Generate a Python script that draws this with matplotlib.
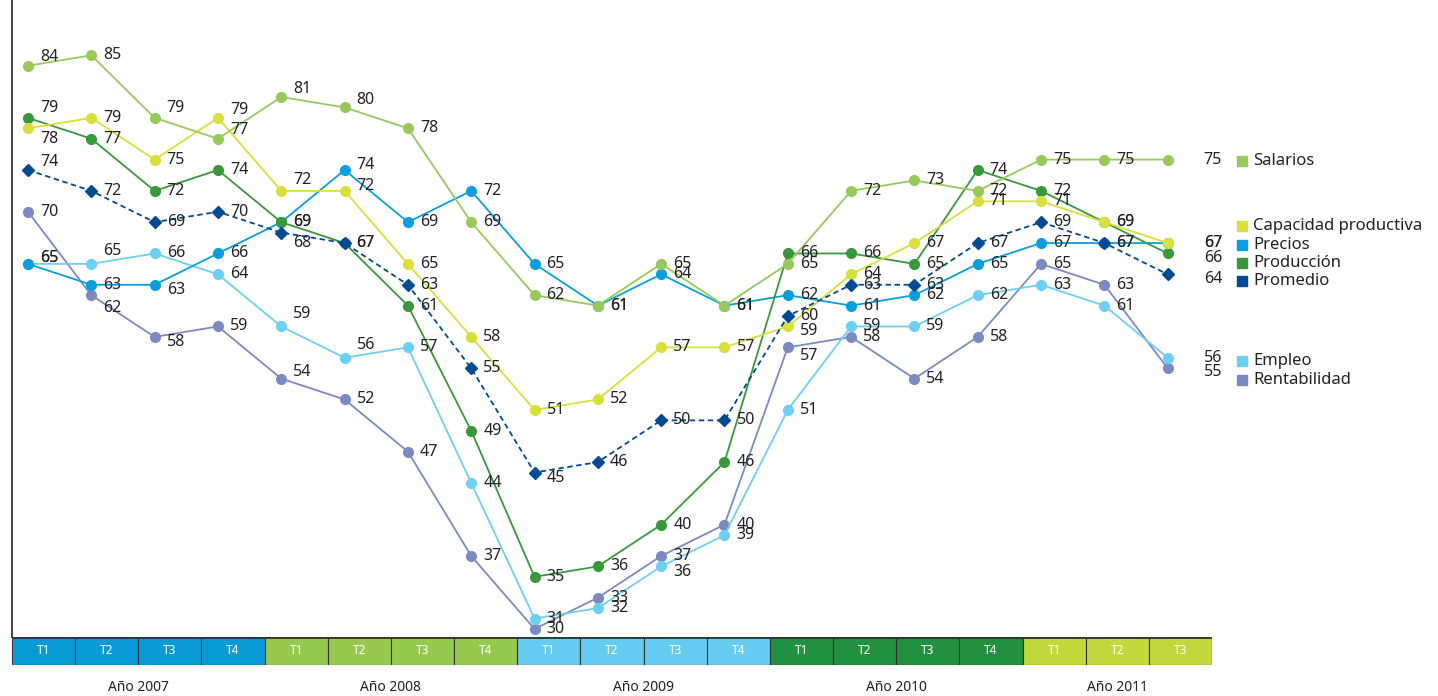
import matplotlib
matplotlib.use("Agg")
import matplotlib.pyplot as plt
from matplotlib.patches import Rectangle

plt.rcParams['font.family'] = ['Noto Sans', 'DejaVu Sans']

quarters = ["T1", "T2", "T3", "T4"] * 4 + ["T1", "T2", "T3"]
years = ["Año 2007", "Año 2008", "Año 2009", "Año 2010", "Año 2011"]
year_len = [4, 4, 4, 4, 3]

salarios     = [84, 85, 79, 77, 81, 80, 78, 69, 62, 61, 65, 61, 65, 72, 73, 72, 75, 75, 75]
capacidad    = [78, 79, 75, 79, 72, 72, 65, 58, 51, 52, 57, 57, 59, 64, 67, 71, 71, 69, 67]
precios      = [65, 63, 63, 66, 69, 74, 69, 72, 65, 61, 64, 61, 62, 61, 62, 65, 67, 67, 67]
produccion   = [79, 77, 72, 74, 69, 67, 61, 49, 35, 36, 40, 46, 66, 66, 65, 74, 72, 69, 66]
promedio     = [74, 72, 69, 70, 68, 67, 63, 55, 45, 46, 50, 50, 60, 63, 63, 67, 69, 67, 64]
empleo       = [65, 65, 66, 64, 59, 56, 57, 44, 31, 32, 36, 39, 51, 59, 59, 62, 63, 61, 56]
rentabilidad = [70, 62, 58, 59, 54, 52, 47, 37, 30, 33, 37, 40, 57, 58, 54, 58, 65, 63, 55]

c_sal = '#97c95c'
c_cap = '#d9df3b'
c_pre = '#0a9fdc'
c_pro = '#3a983c'
c_avg = '#004a93'
c_emp = '#6dd0f2'
c_ren = '#7b8bc0'
year_colors = ['#0a9ad6', '#98c94f', '#66cbf0', '#21903f', '#c2d73a']

# label nudges (pixels, + = down)
nudge = {
    'sal': {0: -9, 2: -10, 3: -9, 4: -8, 5: -7},
    'cap': {0: 11, 3: -8, 4: -11, 5: -5, 12: 5},
    'pre': {0: -6, 2: 5, 5: -5},
    'pro': {0: -10, 18: 5},
    'avg': {0: -8, 4: 10, 8: 5, 18: 5},
    'emp': {0: -6, 1: -13, 4: -12, 5: -13, 10: 6},
    'ren': {1: 13, 2: 5, 4: -7, 12: 9, 18: 4},
}

W, H = 1438, 696
fig = plt.figure(figsize=(W / 100, H / 100), dpi=100)
ax = fig.add_axes([12 / W, (H - 637) / H, 1200 / W, 637 / H])
ax.set_xlim(-0.253, 18.70)
ax.set_ylim(29.23, 90.3)
for s in ['top', 'right', 'bottom']:
    ax.spines[s].set_visible(False)
ax.spines['left'].set_color('#222222')
ax.spines['left'].set_linewidth(1.2)
ax.set_xticks([])
ax.set_yticks([])

x = list(range(len(quarters)))
series = [
    ('ren', rentabilidad, c_ren, 'o', '-'),
    ('emp', empleo, c_emp, 'o', '-'),
    ('pre', precios, c_pre, 'o', '-'),
    ('pro', produccion, c_pro, 'o', '-'),
    ('cap', capacidad, c_cap, 'o', '-'),
    ('sal', salarios, c_sal, 'o', '-'),
    ('avg', promedio, c_avg, 'D', '--'),
]
px = 72 / 100  # points per pixel
for key, vals, col, mk, ls in series:
    ax.plot(x, vals, color=col, lw=1.3, ls=ls, marker=mk,
            ms=7 if mk == 'o' else 6, mec=col, mfc=col, zorder=3, clip_on=False,
            dashes=(3, 2) if ls == '--' else (None, None))
    for i, v in enumerate(vals):
        dx = 36 if i == len(vals) - 1 else 12
        dy = nudge[key].get(i, 0)
        ax.annotate(str(v), (i, v), xytext=(dx * px, -dy * px), textcoords='offset points',
                    ha='left', va='center', fontsize=11.5, color='#222222', zorder=5)

# quarter band
bax = fig.add_axes([12 / W, (H - 665) / H, 1200 / W, 28 / H])
bax.set_xlim(0, len(quarters))
bax.set_ylim(0, 1)
bax.axis('off')
i = 0
for yname, n, col in zip(years, year_len, year_colors):
    for k in range(n):
        bax.bar(i + k, 1, width=1, align='edge', color=col, edgecolor='#333333', lw=0.8)
        bax.text(i + k + 0.5, 0.5, quarters[i + k], ha='center', va='center',
                 color='white', fontsize=8.5)
    bax.text(i + n / 2, -0.82, yname, ha='center', va='center', fontsize=10, color='#222222')
    i += n
bax.axhline(1, color='#333333', lw=2)

# legend
legend = [
    ('Salarios', c_sal, 161),
    ('Capacidad productiva', c_cap, 226),
    ('Precios', c_pre, 245),
    ('Producción', c_pro, 263),
    ('Promedio', c_avg, 281),
    ('Empleo', c_emp, 361),
    ('Rentabilidad', c_ren, 380),
]
for name, col, ypx in legend:
    fig.patches.append(Rectangle((1237 / W, (H - ypx - 5) / H), 10 / W, 10 / H,
                                 transform=fig.transFigure, color=col))
    fig.text(1253 / W, (H - ypx) / H, name, ha='left', va='center', fontsize=12, color='#222222')

fig.savefig('out.png', dpi=100)
